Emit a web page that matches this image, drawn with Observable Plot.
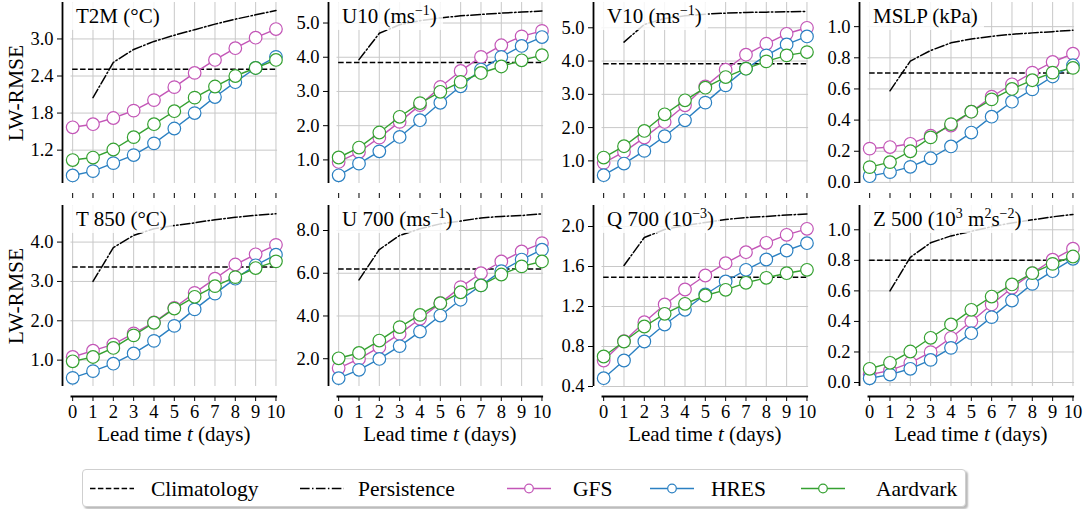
<!DOCTYPE html>
<html><head><meta charset="utf-8">
<script src="https://cdn.jsdelivr.net/npm/d3@7"></script>
<script src="https://cdn.jsdelivr.net/npm/@observablehq/plot@0.6"></script>
<style>
body{margin:0;background:#fff;}
#fig{position:relative;width:1092px;height:509px;overflow:hidden;font-family:"Liberation Serif","Times New Roman",serif;color:#000;background:#fff;}
.panel{position:absolute;}
.ttl{position:absolute;background:rgba(255,255,255,0.82);font-size:21px;line-height:22px;padding:3px 6px 3px 6px;border-radius:3px;white-space:nowrap;}
.ttl sup{font-size:14px;vertical-align:0;position:relative;top:-8px;line-height:0;}
.xl{position:absolute;font-size:21px;line-height:22px;white-space:nowrap;transform:translateX(-50%);}
.yl{position:absolute;font-size:21.5px;white-space:nowrap;transform:translate(-50%,-50%) rotate(-90deg);}
#legend{position:absolute;left:82px;top:469px;width:882px;height:36px;border:1px solid #cfcfcf;border-radius:4px;background:#fff;box-shadow:2px 2px 2px rgba(0,0,0,0.28);}
</style></head>
<body><div id="fig"></div>
<script>
// ---- data ----
const days = [0,1,2,3,4,5,6,7,8,9,10];
const persistenceDays = [1,2,3,4,5,6,7,8,9,10];
const panelTitles = ["T2M (°C)","U10 (ms<sup>−1</sup>)","V10 (ms<sup>−1</sup>)","MSLP (kPa)",
  "T 850 (°C)","U 700 (ms<sup>−1</sup>)","Q 700 (10<sup>−3</sup>)","Z 500 (10<sup>3</sup> m<sup>2</sup>s<sup>−2</sup>)"];
const seriesNames = ["Climatology","Persistence","GFS","HRES","Aardvark"];
const yAxisLabel = "LW-RMSE";
const xAxisLabel = "Lead time <i>t</i> (days)";

const gfsRmse = [
  [1.57,1.62,1.72,1.84,2.01,2.22,2.45,2.66,2.85,3.02,3.16],
  [0.94,1.23,1.65,2.11,2.60,3.13,3.60,4.01,4.35,4.61,4.77],
  [0.94,1.27,1.70,2.17,2.67,3.24,3.74,4.19,4.52,4.82,5.00],
  [0.217,0.227,0.248,0.30,0.365,0.454,0.55,0.63,0.705,0.773,0.826],
  [1.08,1.24,1.40,1.68,1.96,2.33,2.71,3.07,3.43,3.69,3.93],
  [1.56,1.99,2.54,3.16,3.87,4.60,5.35,6.00,6.55,7.02,7.41],
  [0.66,0.853,1.043,1.22,1.37,1.51,1.633,1.743,1.837,1.917,1.977],
  [0.052,0.079,0.129,0.199,0.293,0.40,0.511,0.62,0.716,0.804,0.876]
];
const hresRmse = [
  [0.79,0.86,0.99,1.12,1.31,1.55,1.80,2.06,2.30,2.53,2.71],
  [0.55,0.89,1.25,1.67,2.16,2.67,3.15,3.64,4.01,4.33,4.59],
  [0.57,0.92,1.30,1.74,2.22,2.75,3.27,3.77,4.17,4.50,4.74],
  [0.04,0.066,0.10,0.155,0.231,0.32,0.422,0.518,0.597,0.68,0.752],
  [0.55,0.72,0.91,1.17,1.49,1.87,2.29,2.69,3.07,3.41,3.68],
  [1.09,1.48,1.99,2.59,3.27,4.02,4.76,5.43,6.10,6.64,7.10],
  [0.483,0.66,0.85,1.02,1.167,1.32,1.45,1.567,1.67,1.76,1.833],
  [0.028,0.052,0.09,0.148,0.227,0.323,0.428,0.537,0.646,0.729,0.81]
];
const aardvarkRmse = [
  [1.04,1.08,1.21,1.41,1.62,1.83,2.05,2.23,2.40,2.53,2.66],
  [1.07,1.36,1.80,2.26,2.66,2.99,3.28,3.54,3.73,3.91,4.06],
  [1.10,1.44,1.90,2.40,2.82,3.20,3.52,3.77,3.99,4.17,4.27],
  [0.098,0.13,0.20,0.289,0.374,0.454,0.533,0.60,0.656,0.705,0.735],
  [0.97,1.08,1.31,1.63,1.95,2.31,2.61,2.88,3.11,3.34,3.51],
  [2.02,2.27,2.85,3.48,4.05,4.60,5.11,5.43,5.94,6.32,6.55],
  [0.70,0.85,1.0,1.127,1.227,1.31,1.367,1.437,1.487,1.533,1.567],
  [0.09,0.129,0.203,0.293,0.38,0.476,0.563,0.642,0.716,0.777,0.825]
];
const persistenceRmse = [
  [2.05,2.62,2.83,2.96,3.06,3.15,3.24,3.32,3.39,3.46],
  [3.93,4.70,4.95,5.07,5.15,5.21,5.25,5.29,5.32,5.35],
  [4.57,5.10,5.28,5.36,5.41,5.44,5.46,5.47,5.48,5.49],
  [0.588,0.779,0.847,0.896,0.921,0.938,0.951,0.96,0.968,0.977],
  [3.00,3.86,4.17,4.34,4.42,4.49,4.57,4.63,4.68,4.72],
  [5.69,7.11,7.77,8.08,8.31,8.44,8.59,8.66,8.70,8.78],
  [1.61,1.89,1.97,2.01,2.04,2.07,2.09,2.10,2.115,2.125],
  [0.60,0.82,0.915,0.96,0.99,1.02,1.045,1.065,1.085,1.10]
];
const climatologyRmse = [2.51,3.85,3.92,0.703,3.37,6.2,1.493,0.80];
const yTicks = [
  [1.2,1.8,2.4,3.0],[1,2,3,4,5],[1,2,3,4,5],[0,0.2,0.4,0.6,0.8,1.0],
  [1,2,3,4],[2,4,6,8],[0.4,0.8,1.2,1.6,2.0],[0,0.2,0.4,0.6,0.8,1.0]
];
const yLimits = [[0.66,3.59],[0.31,5.60],[0.32,5.76],[-0.007,1.155],[0.33,4.93],[0.70,9.17],[0.40,2.21],[-0.026,1.159]];

// ---- style ----
const colors = {GFS:"#c356b7", HRES:"#2b80c2", Aardvark:"#35a131"};
const gridColor = "#c8c8c8";
const dashClim = "5.5,2.4";
const dashPers = "9.6,2.4,1.5,2.4";

const fig = document.getElementById("fig");
const AX_H = 181, OFF = 10, PLOT_W = 215.5, ML = 62, MR = 6, MT = 2;
const colX = [62, 328, 593, 859];
const rowTop = [0, 203];

for (let i = 0; i < 8; i++) {
  const row = Math.floor(i / 4), col = i % 4;
  const [lo, hi] = yLimits[i];
  const yBottom = lo - OFF * (hi - lo) / AX_H;
  const MB = row === 0 ? 8 : 60;
  const series = [["GFS", gfsRmse[i]], ["HRES", hresRmse[i]], ["Aardvark", aardvarkRmse[i]]];
  const pers = persistenceDays.map((d, j) => ({x: d, y: persistenceRmse[i][j]}));
  const marks = [
    Plot.ruleY(yTicks[i], {x1: -0.08, x2: 10.08, stroke: gridColor, strokeWidth: 1}),
    Plot.ruleX(days, {y1: lo, y2: hi, stroke: gridColor, strokeWidth: 1}),
    Plot.ruleX([-0.5], {y1: lo, y2: hi, stroke: "black", strokeWidth: 1.8}),
    Plot.ruleY([climatologyRmse[i]], {x1: 0, x2: 10, stroke: "black", strokeWidth: 1.5, strokeDasharray: dashClim}),
    Plot.line(pers, {x: "x", y: "y", stroke: "black", strokeWidth: 1.5, strokeDasharray: dashPers})
  ];
  if (row === 1) marks.push(Plot.ruleY([yBottom], {x1: -0.08, x2: 10.08, stroke: "black", strokeWidth: 1.8}));
  for (const [name, vals] of series) {
    const pts = days.map((d, j) => ({x: d, y: vals[j]}));
    marks.push(Plot.line(pts, {x: "x", y: "y", stroke: colors[name], strokeWidth: 1.4}));
    marks.push(Plot.dot(pts, {x: "x", y: "y", r: 6.3, stroke: colors[name], strokeWidth: 1.2, fill: "white"}));
  }
  const chart = Plot.plot({
    width: ML + PLOT_W + MR,
    height: MT + AX_H + OFF + MB,
    marginLeft: ML, marginRight: MR, marginTop: MT, marginBottom: MB,
    x: {domain: [-0.5, 10.1], ticks: days, tickSize: 5, tickPadding: 3,
        tickFormat: row === 0 ? () => "" : d => String(d), label: null},
    y: {domain: [yBottom, hi], ticks: yTicks[i], tickSize: 5, tickPadding: 4,
        tickFormat: d3.format(".1f"), label: null},
    style: {fontFamily: "Liberation Serif, Times New Roman, serif", fontSize: "18.5px",
            background: "transparent", color: "black", overflow: "visible"},
    marks
  });
  const wrap = document.createElement("div");
  wrap.className = "panel";
  wrap.style.left = (colX[col] - ML) + "px";
  wrap.style.top = rowTop[row] + "px";
  wrap.appendChild(chart);
  fig.appendChild(wrap);

  const axTop = rowTop[row] + MT;
  const t = document.createElement("div");
  t.className = "ttl";
  t.innerHTML = panelTitles[i];
  t.style.left = (colX[col] + 8) + "px";
  t.style.top = axTop + "px";
  fig.appendChild(t);

  if (row === 1) {
    const xl = document.createElement("div");
    xl.className = "xl";
    xl.innerHTML = xAxisLabel;
    xl.style.left = (colX[col] + 5.5 * PLOT_W / 10.6) + "px";
    xl.style.top = "423px";
    fig.appendChild(xl);
  }
  if (col === 0) {
    const yl = document.createElement("div");
    yl.className = "yl";
    yl.textContent = yAxisLabel;
    yl.style.left = "16px";
    yl.style.top = (axTop + AX_H / 2) + "px";
    fig.appendChild(yl);
  }
}

// ---- legend ----
const leg = document.createElement("div");
leg.id = "legend";
fig.appendChild(leg);
const lsvg = d3.select(leg).append("svg").attr("width", 882).attr("height", 36)
  .style("position", "absolute").style("left", 0).style("top", 0)
  .style("font-family", "Liberation Serif, Times New Roman, serif").style("font-size", "21.5px");
const legX = [7, 217, 424, 567, 718];     // swatch starts
const legTextX = [68, 275, 490, 628, 793];
const cy = 18.5;
seriesNames.forEach((name, k) => {
  const x0 = legX[k], x1 = x0 + 44;
  const line = lsvg.append("line").attr("x1", x0).attr("x2", x1).attr("y1", cy).attr("y2", cy)
    .attr("stroke-width", 1.5);
  if (k === 0) line.attr("stroke", "black").attr("stroke-dasharray", dashClim);
  else if (k === 1) line.attr("stroke", "black").attr("stroke-dasharray", dashPers);
  else {
    line.attr("stroke", colors[name]);
    lsvg.append("circle").attr("cx", (x0 + x1) / 2).attr("cy", cy).attr("r", 4.3)
      .attr("fill", "white").attr("stroke", colors[name]).attr("stroke-width", 1.2);
  }
  lsvg.append("text").attr("x", legTextX[k]).attr("y", cy).attr("dy", "0.35em").text(name);
});
</script></body></html>
